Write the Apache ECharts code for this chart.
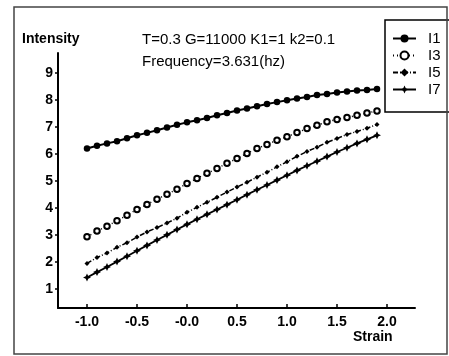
<!DOCTYPE html>
<html><head><meta charset="utf-8">
<script src="https://cdn.jsdelivr.net/npm/echarts@6/dist/echarts.min.js"></script>
<style>html,body{margin:0;padding:0;background:#fff}#c{width:449px;height:356px}</style>
</head><body><div id="c"></div>
<script>
var strain = [-1.0,-0.9,-0.8,-0.7,-0.6,-0.5,-0.4,-0.3,-0.2,-0.1,0.0,0.1,0.2,0.3,0.4,0.5,0.6,0.7,0.8,0.9,1.0,1.1,1.2,1.3,1.4,1.5,1.6,1.7,1.8,1.9];
var I1 = [6.21,6.31,6.40,6.48,6.59,6.70,6.79,6.89,6.99,7.09,7.18,7.26,7.34,7.44,7.53,7.62,7.69,7.78,7.86,7.93,8.00,8.06,8.12,8.19,8.23,8.29,8.32,8.36,8.38,8.42];
var I3 = [2.94,3.15,3.33,3.53,3.74,3.95,4.14,4.33,4.52,4.70,4.91,5.10,5.29,5.47,5.66,5.84,6.03,6.21,6.36,6.52,6.65,6.80,6.95,7.07,7.20,7.29,7.36,7.44,7.53,7.60];
var I5 = [1.95,2.17,2.34,2.55,2.72,2.93,3.12,3.28,3.45,3.63,3.85,4.03,4.22,4.40,4.60,4.78,4.96,5.15,5.33,5.53,5.72,5.92,6.10,6.26,6.44,6.58,6.73,6.84,6.96,7.10];
var I7 = [1.43,1.63,1.82,2.02,2.22,2.42,2.62,2.82,3.01,3.21,3.40,3.59,3.77,3.95,4.13,4.31,4.50,4.68,4.86,5.04,5.22,5.40,5.57,5.74,5.91,6.08,6.24,6.40,6.55,6.70];
var seriesNames = ['I1','I3','I5','I7'];
var xTicks = [-1.0,-0.5,0.0,0.5,1.0,1.5,2.0];
var xTickLabels = ['-1.0','-0.5','-0.0','0.5','1.0','1.5','2.0'];
var yTicks = [1,2,3,4,5,6,7,8,9];
var titleLines = ['T=0.3 G=11000 K1=1 k2=0.1','Frequency=3.631(hz)'];
var xName = 'Strain', yName = 'Intensity';

function pairs(arr){ return strain.map(function(s,i){ return [s, arr[i]]; }); }
var FONT = 'Liberation Sans, Arial, sans-serif';
var star = 'path://M5,0L6.6,3.4L10,5L6.6,6.6L5,10L3.4,6.6L0,5L3.4,3.4Z';

var chart = echarts.init(document.getElementById('c'));
chart.setOption({
  animation:false,
  backgroundColor:'#fff',
  title:{
    text: titleLines.join('\n'),
    left:137, top:24,
    textStyle:{fontFamily:FONT, fontSize:15, fontWeight:'normal', color:'#000', lineHeight:22}
  },
  grid:{left:58, top:53, width:357, height:255, containLabel:false},
  legend:{
    orient:'vertical', left:392, top:31, itemWidth:23, itemHeight:10, itemGap:2, padding:0,
    data: seriesNames,
    textStyle:{fontFamily:FONT, fontSize:15, color:'#000', padding:[0,0,0,7]}
  },
  xAxis:{
    type:'value', min:-1.29, max:2.28,
    axisLine:{onZero:false, lineStyle:{color:'#000', width:2}},
    splitLine:{show:false},
    axisTick:{inside:true, length:4, customValues:xTicks, lineStyle:{color:'#000', width:1.5}},
    axisLabel:{customValues:xTicks, margin:7, fontFamily:FONT, fontSize:14, fontWeight:'bold', color:'#000',
      formatter:function(v){ var i = xTicks.findIndex(function(t){return Math.abs(t-v)<1e-6;}); return i>=0?xTickLabels[i]:''; }}
  },
  yAxis:{
    type:'value', min:0.3, max:9.75,
    axisLine:{onZero:false, lineStyle:{color:'#000', width:2}},
    splitLine:{show:false},
    axisTick:{inside:false, length:3, customValues:yTicks, lineStyle:{color:'#000', width:1.5}},
    axisLabel:{customValues:yTicks, margin:5, fontFamily:FONT, fontSize:14, fontWeight:'bold', color:'#000'}
  },
  graphic:[
    {type:'rect', shape:{x:14, y:7, width:433, height:347}, style:{fill:'none', stroke:'#444', lineWidth:1.5}, silent:true},
    {type:'rect', shape:{x:385, y:20, width:80, height:92}, style:{fill:'#fff', stroke:'#000', lineWidth:1.5}, silent:true, z:-1},
    {type:'text', left:22, top:32, style:{text:yName, font:'bold 14px '+FONT, fill:'#000'}},
    {type:'text', left:353, top:330, style:{text:xName, font:'bold 14px '+FONT, fill:'#000'}}
  ],
  series:[
    {name:'I1', type:'line', data:pairs(I1), symbol:'circle', symbolSize:6.5, showAllSymbol:true,
      lineStyle:{color:'#000', width:2}, itemStyle:{color:'#000'}},
    {name:'I3', type:'line', data:pairs(I3), symbol:'emptyCircle', symbolSize:5.5, showAllSymbol:true,
      lineStyle:{color:'#000', width:1.5, type:[1,3]}, itemStyle:{color:'#000', borderColor:'#000', borderWidth:1.8}},
    {name:'I5', type:'line', data:pairs(I5), symbol:'diamond', symbolSize:5, showAllSymbol:true,
      lineStyle:{color:'#000', width:1.5, type:[5,2,1,2]}, itemStyle:{color:'#000'}},
    {name:'I7', type:'line', data:pairs(I7), symbol:star, symbolSize:8, showAllSymbol:true,
      lineStyle:{color:'#000', width:1.8}, itemStyle:{color:'#000'}}
  ]
});
</script></body></html>
